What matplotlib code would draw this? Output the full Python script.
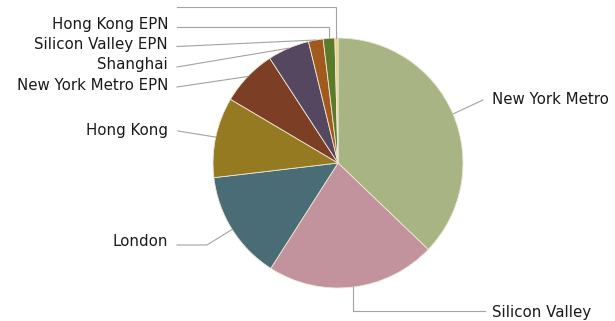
import numpy as np
import matplotlib.pyplot as plt

# share of members by region (percent of total)
regions = ['New York Metro', 'Silicon Valley', 'London', 'Hong Kong',
           'New York Metro EPN', 'Shanghai', 'Silicon Valley EPN',
           'Hong Kong EPN', '']
shares = [37.2, 21.9, 14.1, 10.4, 7.3, 5.4, 1.9, 1.5, 0.4]
colors = ['#a9b485', '#c2939c', '#4a6c77', '#957a22', '#7c3e25',
          '#55475f', '#a1591d', '#5b7b2b', '#ead07e']

W, H = 615, 321
cx, cy, r = 338, H - 163, 125

fig = plt.figure(figsize=(W / 100, H / 100), dpi=100)
ax = fig.add_axes([0, 0, 1, 1])
wedges, _ = ax.pie(shares, colors=colors, startangle=90, counterclock=False,
                   center=(cx, cy), radius=r,
                   wedgeprops=dict(edgecolor='#eee9d6', linewidth=0.6))
ax.set_xlim(0, W)
ax.set_ylim(0, H)
ax.axis('off')

# label placement, y measured from the top: text x, text y, alignment, leader points
placement = {
    'New York Metro':     (492, 100, 'left',  [(483, 100)]),
    'Silicon Valley':     (492, 312, 'left',  ['drop', (485, 311)]),
    'London':             (168, 242, 'right', [(207, 245), (177, 245)]),
    'Hong Kong':          (168, 130, 'right', [(178, 131)]),
    'New York Metro EPN': (168, 85,  'right', [(177, 87)]),
    'Shanghai':           (168, 65,  'right', [(177, 67)]),
    'Silicon Valley EPN': (168, 45,  'right', [(177, 46.5)]),
    'Hong Kong EPN':      (168, 25,  'right', ['rise', (177, 27)]),
    '':                   (168, 7,   'right', ['rise', (177, 7)]),
}

for w, name in zip(wedges, regions):
    mid = np.radians((w.theta1 + w.theta2) / 2)
    ex, ey = cx + r * np.cos(mid), cy + r * np.sin(mid)
    tx, ty, ha, pts = placement[name]
    xs, ys = [ex], [ey]
    for i, p in enumerate(pts):
        if p in ('drop', 'rise'):
            nxt = pts[i + 1]
            xs.append(ex)
            ys.append(H - nxt[1])
        else:
            xs.append(p[0])
            ys.append(H - p[1])
    ax.plot(xs, ys, color='#a3a3a3', lw=0.8, solid_joinstyle='miter')
    ax.text(tx, H - ty, name, ha=ha, va='center', fontsize=10.8, color='#1a1a1a')

fig.savefig('out.png', dpi=100, facecolor='white')
